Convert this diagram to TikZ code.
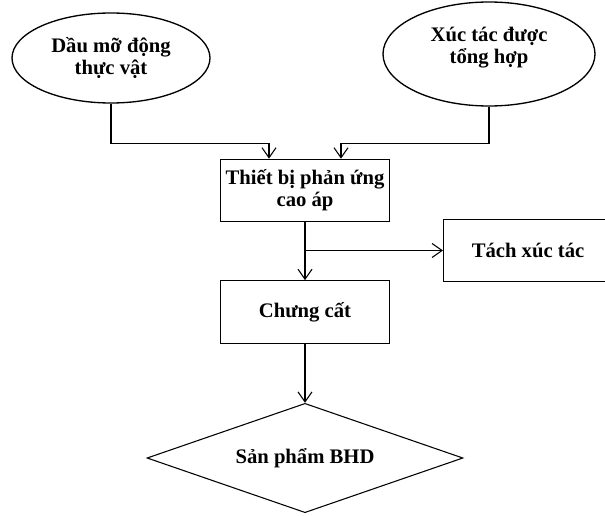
\documentclass[tikz,border=0pt]{standalone}
\usepackage{fontspec}
\setmainfont{Liberation Serif}
\usetikzlibrary{shapes.geometric,arrows.meta}

\begin{document}
\begin{tikzpicture}[
    x=0.75pt,
    y=0.75pt,
    >={Straight Barb[length=7.5pt,width=10.5pt]},
    line width=0.8pt,
    every node/.style={font=\fontsize{15.5}{16.5}\selectfont\bfseries, align=center},
    source/.style={draw, ellipse, line width=1pt, inner sep=0pt},
    stepbox/.style={draw, rectangle, minimum width=126.75pt, minimum height=47pt, inner sep=0pt},
    product/.style={draw, diamond, shape aspect=2.9, minimum width=237pt, minimum height=82pt, inner sep=0pt}
]

% ============================================================
% Bildausschnitt
% ============================================================

\clip (0,0) rectangle (605,515);

% ============================================================
% Ausgangsstoffe
% ============================================================

\node[source, minimum width=148.5pt, minimum height=67.5pt]
    (oil) at (111,457) {Dầu mỡ động\\thực vật};

% Text etwas oberhalb der Mitte
\node[source, minimum width=159pt, minimum height=78pt,
      label={[yshift=5pt]center:{Xúc tác được\\tổng hợp}}]
    (cat) at (489,461) {};

% ============================================================
% Prozessschritte
% ============================================================

\node[stepbox] (reactor) at (305,324.5) {Thiết bị phản ứng\\cao áp};

\node[stepbox] (sep) at (528,264.5) {Tách xúc tác};

\node[stepbox] (distil) at (305,203) {Chưng cất};

\node[product] (bhd) at (305,57) {Sản phẩm BHD};

% ============================================================
% Verbindungen
% ============================================================

\draw[->] (oil.south) -- ++(0,-40) -| ([xshift=-27pt]reactor.north);
\draw[->] (cat.south) -- ++(0,-37) -| ([xshift=27pt]reactor.north);

\draw[->] (reactor.south) -- (distil.north);
\draw[->] (reactor.south |- sep.west) -- (sep.west);

\draw[->] (distil.south) -- (bhd.north);

\end{tikzpicture}
\end{document}
